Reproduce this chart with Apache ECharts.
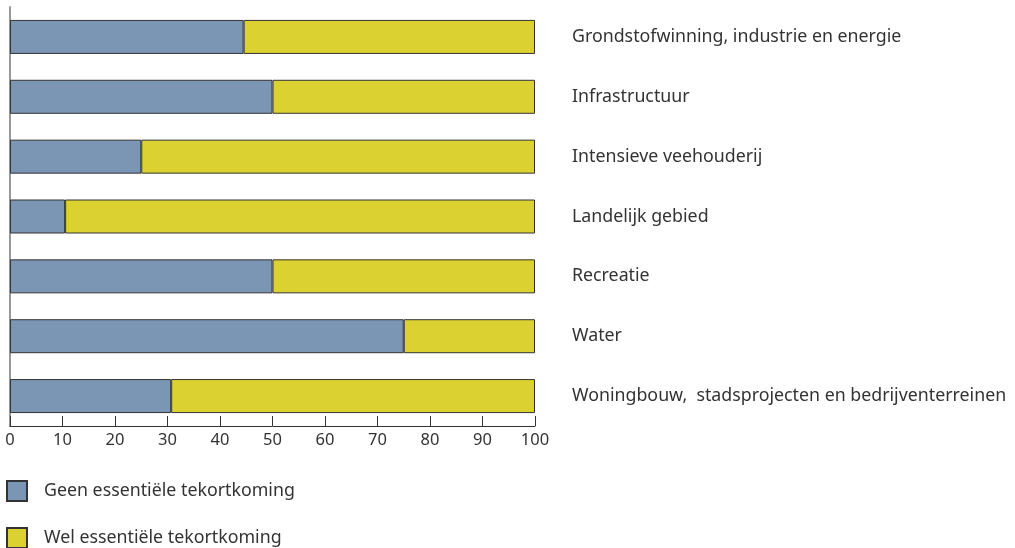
<!DOCTYPE html>
<html>
<head>
<meta charset="utf-8">
<script src="https://cdn.jsdelivr.net/npm/echarts@6/dist/echarts.min.js"></script>
<style>
  html, body { margin: 0; padding: 0; background: #fff; }
  #chart { width: 1015px; height: 548px; }
</style>
</head>
<body>
<div id="chart"></div>
<script>
const categories = [
  'Grondstofwinning, industrie en energie',
  'Infrastructuur',
  'Intensieve veehouderij',
  'Landelijk gebied',
  'Recreatie',
  'Water',
  'Woningbouw,  stadsprojecten en bedrijventerreinen',
]
const geenValues = [44.5, 50, 25, 10.5, 50, 75, 30.7]
const welValues = [55.5, 50, 75, 89.5, 50, 25, 69.3]
const seriesNames = ['Geen essentiële tekortkoming', 'Wel essentiële tekortkoming']

const font = 'Noto Sans'
const chart = echarts.init(document.getElementById('chart'))

const barCommon = {
  type: 'bar',
  stack: 'total',
  barWidth: 34,
  emphasis: { disabled: true },
}

const legendCommon = {
  left: 6,
  itemWidth: 20,
  itemHeight: 20,
  icon: 'rect',
  selectedMode: false,
  padding: 0,
  textStyle: { fontFamily: font, fontSize: 17.8, color: '#333', padding: [0, 0, 0, 12] },
}

chart.setOption({
  animation: false,
  backgroundColor: '#fff',
  textStyle: { fontFamily: font },
  grid: { left: 10, right: 480, top: 7, height: 419 },
  legend: [
    { ...legendCommon, top: 480, data: [seriesNames[0]] },
    { ...legendCommon, top: 527, data: [seriesNames[1]] },
  ],
  xAxis: {
    type: 'value',
    min: 0,
    max: 100,
    interval: 10,
    splitLine: { show: false },
    axisLine: { show: true, lineStyle: { color: '#333', width: 1 } },
    axisTick: { show: true, inside: true, length: 10, lineStyle: { color: '#333' } },
    axisLabel: { color: '#333', fontSize: 16.5, fontFamily: font, margin: 6 },
  },
  yAxis: [
    {
      type: 'category',
      data: categories,
      inverse: true,
      axisLine: { show: true, lineStyle: { color: '#999', width: 2 } },
      axisTick: { show: false },
      axisLabel: { show: false },
    },
    {
      type: 'category',
      data: categories,
      inverse: true,
      position: 'right',
      axisLine: { show: false },
      axisTick: { show: false },
      axisLabel: { color: '#333', fontSize: 17.8, fontFamily: font, margin: 37, align: 'left' },
    },
  ],
  series: [
    {
      ...barCommon,
      name: seriesNames[0],
      data: geenValues,
      itemStyle: { color: '#7b95b4', borderColor: '#333', borderWidth: 1 },
    },
    {
      ...barCommon,
      name: seriesNames[1],
      data: welValues,
      itemStyle: { color: '#dbd232', borderColor: '#333', borderWidth: 1 },
    },
  ],
})
</script>
</body>
</html>
